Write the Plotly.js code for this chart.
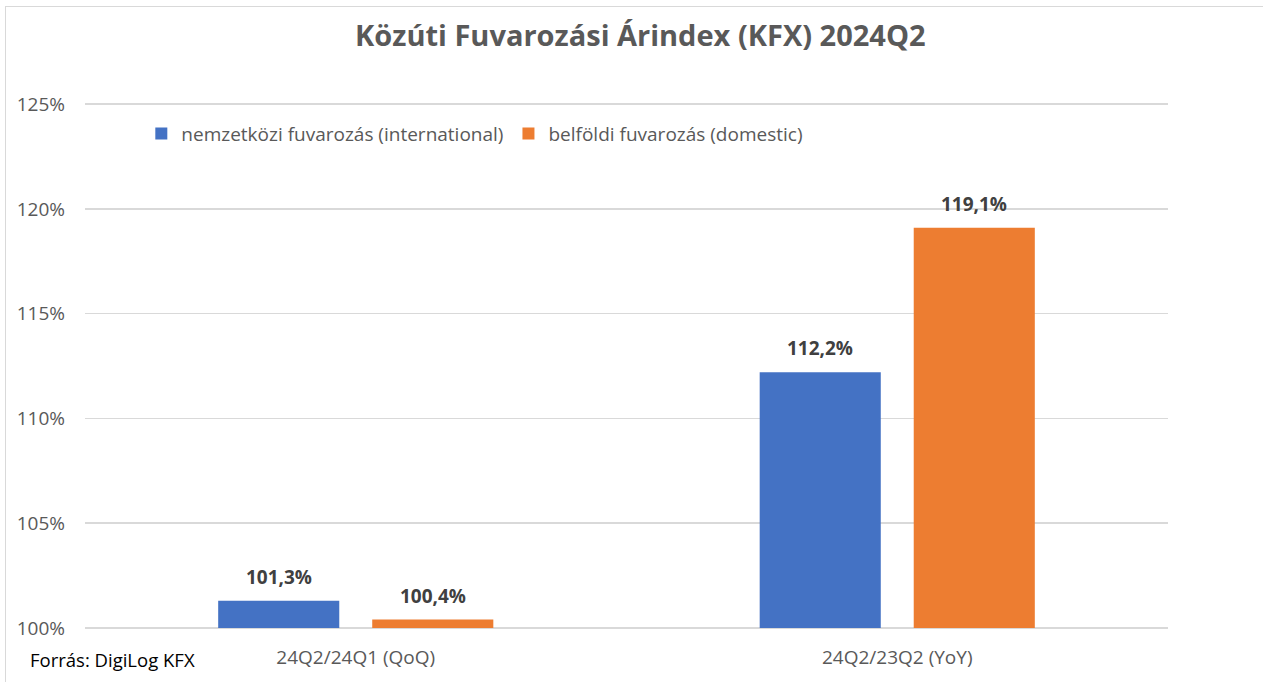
<!DOCTYPE html>
<html>
<head>
<meta charset="utf-8">
<script src="https://cdn.plot.ly/plotly-3.0.1.min.js"></script>
<style>
html,body{margin:0;padding:0;background:#fff;}
#frame{position:absolute;left:5px;top:6px;width:1300px;height:700px;border-left:1px solid #d9d9d9;border-top:1px solid #d9d9d9;}
#chart{position:absolute;left:0;top:0;width:1263px;height:682px;}
</style>
</head>
<body>
<div id="frame"></div>
<div id="chart"></div>
<script>
const categories = ['24Q2/24Q1 (QoQ)', '24Q2/23Q2 (YoY)'];
const seriesNames = ['nemzetközi fuvarozás (international)', 'belföldi fuvarozás (domestic)'];
const international = [101.3, 112.2];
const domestic = [100.4, 119.1];
const yTicks = [100, 105, 110, 115, 120, 125];
const yTickText = ['100%', '105%', '110%', '115%', '120%', '125%'];
const colors = ['#4472C4', '#ED7D31'];
const BASE = 100;

const FONT = '"Open Sans", sans-serif';
const series = [international, domestic];

const traces = series.map((vals, i) => ({
  type: 'bar',
  name: seriesNames[i],
  x: categories,
  y: vals.map(v => v - BASE),
  base: BASE,
  marker: {color: colors[i]},
  hoverinfo: 'skip',
  offsetgroup: String(i)
}));

const nCat = categories.length;
const bargap = 0.431, bargroupgap = 0.214;
const slot = (1 - bargap) / series.length;
const labelAnnotations = [];
series.forEach((vals, i) => {
  vals.forEach((v, j) => {
    labelAnnotations.push({
      xref: 'x', yref: 'y',
      x: j - (1 - bargap) / 2 + slot * (i + 0.5),
      y: v,
      text: '<b>' + v.toFixed(1).replace('.', ',') + '%</b>',
      showarrow: false, xanchor: 'center', yanchor: 'bottom', yshift: 9,
      font: {family: FONT, size: 19, color: '#404040'}
    });
  });
});

const layout = {
  width: 1263, height: 682,
  paper_bgcolor: 'rgba(0,0,0,0)', plot_bgcolor: 'rgba(0,0,0,0)',
  separators: ',.',
  margin: {l: 85, r: 95, t: 102, b: 52},
  title: {text: '<b>Közúti Fuvarozási Árindex (KFX) 2024Q2</b>', x: 0.507, xanchor: 'center', y: 0.948, yanchor: 'middle',
          font: {family: FONT, size: 29, color: '#595959'}},
  barmode: 'group',
  bargap: bargap,
  bargroupgap: bargroupgap,
  xaxis: {type: 'category', range: [-0.5, nCat - 0.5], showgrid: false, zeroline: false, showline: false, ticks: '',
          tickfont: {family: FONT, size: 19, color: '#595959'}, ticklabelstandoff: 14},
  yaxis: {range: [99.9, 125.1], tickvals: yTicks, ticktext: yTickText, showgrid: true,
          gridcolor: '#d9d9d9', gridwidth: 1.5, zeroline: false, showline: false, ticks: '',
          tickfont: {family: FONT, size: 19, color: '#595959'}, ticklabelstandoff: 19},
  showlegend: true,
  legend: {orientation: 'h', x: 0.052, xanchor: 'left', y: 0.94, yanchor: 'middle',
           font: {family: FONT, size: 19, color: '#595959'}, itemwidth: 30, tracegroupgap: 0,
           bgcolor: 'rgba(0,0,0,0)'},
  annotations: labelAnnotations.concat([{text: 'Forrás: DigiLog KFX', xref: 'paper', yref: 'paper', x: -0.053, y: -0.055,
                 xanchor: 'left', yanchor: 'middle', showarrow: false,
                 font: {family: FONT, size: 18.5, color: '#000000'}}])
};

Plotly.newPlot('chart', traces, layout, {displayModeBar: false, staticPlot: true});
</script>
</body>
</html>
